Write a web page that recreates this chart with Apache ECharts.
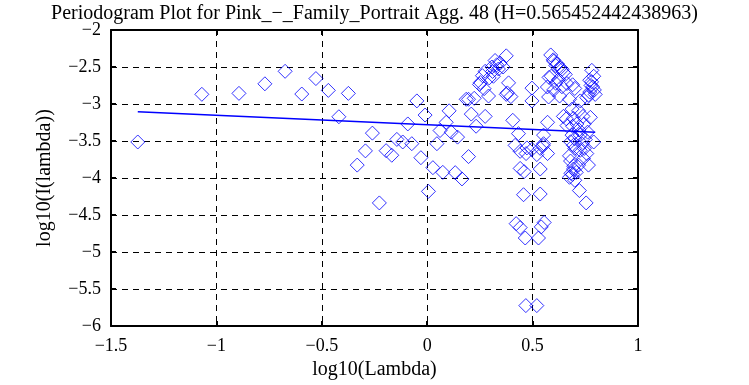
<!DOCTYPE html>
<html><head><meta charset="utf-8">
<script src="https://cdn.jsdelivr.net/npm/echarts@6/dist/echarts.min.js"></script>
<style>html,body{margin:0;padding:0;background:#fff}#c{width:749px;height:385px}</style>
</head><body><div id="c"></div>
<script>
const titleText = 'Periodogram Plot for Pink_\u2212_Family_Portrait Agg. 48 (H=0.565452442438963)';
const xName = 'log10(Lambda)';
const yName = 'log10(I(lambda))';
const xTicks = [-1.5, -1, -0.5, 0, 0.5, 1];
const yTicks = [-6, -5.5, -5, -4.5, -4, -3.5, -3, -2.5, -2];
const points = [
[-1.373,-3.513],[-1.069,-2.869],[-0.893,-2.856],[-0.770,-2.727],[-0.674,-2.558],[-0.595,-2.865],[-0.528,-2.656],[-0.469,-2.816],[-0.374,-2.856],[-0.419,-3.172],[-0.260,-3.393],[-0.293,-3.633],[-0.332,-3.825],[-0.227,-4.336],
[-0.049,-2.958],[-0.010,-3.149],[-0.092,-3.269],[-0.144,-3.478],[-0.116,-3.513],[-0.073,-3.536],[-0.195,-3.63],[-0.168,-3.692],[-0.030,-3.725],[0.027,-3.86],[0.074,-3.923],[0.133,-3.927],[0.165,-4.012],[0.006,-4.18],[0.046,-3.536],[0.061,-3.358],[0.090,-3.247],[0.104,-3.092],[0.114,-3.38],[0.144,-3.447],[0.196,-3.71],[0.185,-2.936],[0.223,-2.923],[0.209,-3.136],[0.232,-3.30],[0.275,-3.167],[0.248,-2.736],[0.270,-2.793],[0.291,-2.892],[0.275,-2.558],[0.307,-2.50],[0.322,-2.412],[0.346,-2.447],[0.375,-2.349],[0.338,-2.527],[0.314,-2.625],[0.386,-2.714],[0.397,-2.90],[0.375,-2.87],[0.406,-3.22],[0.433,-3.40],[0.417,-3.558],[0.441,-3.639],[0.469,-3.669],[0.497,-3.612],[0.520,-3.683],[0.441,-3.87],[0.460,-3.913],[0.536,-3.878],[0.457,-4.225],[0.536,-4.216],[0.497,-2.785],[0.497,-2.958],[0.552,-3.42],[0.571,-3.247],[0.552,-3.536],[0.571,-3.669],[0.576,-2.905],[0.60,-2.81],
[0.252,-2.71],[0.196,-2.936],[0.262,-2.617],[0.294,-2.647],[0.33,-2.47],[0.31,-2.56],[0.36,-2.50],[0.38,-2.85],
[0.586,-2.337],[0.598,-2.403],[0.617,-2.456],[0.631,-2.513],[0.646,-2.572],[0.588,-2.625],[0.623,-2.669],[0.663,-2.723],[0.639,-2.767],[0.628,-2.892],[0.675,-2.936],[0.726,-2.958],[0.687,-3.069],[0.646,-3.167],[0.694,-3.193],[0.718,-3.092],[0.739,-3.167],[0.774,-3.18],[0.663,-3.292],[0.71,-3.269],[0.745,-3.269],[0.687,-3.42],[0.726,-3.42],[0.761,-3.38],[0.790,-3.513],[0.734,-3.536],[0.694,-3.558],[0.726,-3.625],[0.757,-3.669],[0.741,-3.736],[0.675,-3.70],[0.765,-3.825],[0.718,-3.825],[0.694,-3.878],[0.682,-3.936],[0.707,-3.923],[0.675,-3.99],[0.722,-4.169],[0.781,-2.545],[0.790,-2.625],[0.771,-2.678],[0.777,-2.749],[0.793,-2.81],[0.771,-2.838],[0.797,-2.87],[0.757,-2.914],[0.754,-4.336],
[0.60,-2.42],[0.61,-2.48],[0.64,-2.53],[0.655,-2.60],[0.578,-2.64],[0.57,-2.77],[0.61,-2.72],[0.69,-2.74],[0.70,-2.79],[0.78,-2.70],[0.785,-2.77],[0.765,-2.88],
[0.66,-3.20],[0.69,-3.30],[0.72,-3.35],[0.75,-3.48],[0.70,-3.47],[0.68,-3.51],[0.70,-3.60],[0.745,-3.60],[0.68,-3.77],[0.695,-3.84],[0.69,-3.95],[0.70,-4.03],
[0.473,-3.593],[0.536,-3.60],[0.55,-3.56],
[0.422,-4.616],[0.441,-4.669],[0.555,-4.60],[0.541,-4.66],[0.465,-4.81],[0.528,-4.81],[0.468,-5.723],[0.520,-5.723]
];
const fitLine = [[-1.373,-3.105],[0.797,-3.38]];

const font = 'Liberation Serif, Times New Roman, serif';
const fmt = v => String(v).replace('-', '\u2212');
const chart = echarts.init(document.getElementById('c'));
const baseX = {type:'value', min:xTicks[0], max:xTicks[xTicks.length-1], interval:0.5};
const baseY = {type:'value', min:yTicks[0], max:yTicks[yTicks.length-1], interval:0.5};
chart.setOption({
  animation:false,
  backgroundColor:'#fff',
  title:{text:titleText, left:'center', top:-1, textStyle:{fontFamily:font, fontSize:20, fontWeight:'normal', color:'#000'}},
  grid:{left:111, right:111, top:30, bottom:55, containLabel:false},
  xAxis:[
    Object.assign({}, baseX, {position:'bottom', name:xName, nameLocation:'middle', nameGap:31,
      nameTextStyle:{fontFamily:font, fontSize:20, color:'#000'},
      axisLine:{onZero:false, lineStyle:{color:'#000', width:2}},
      axisTick:{inside:true, length:5, lineStyle:{color:'#000', width:2}},
      axisLabel:{formatter:fmt, fontFamily:font, fontSize:18, color:'#000', margin:11},
      splitLine:{show:true, lineStyle:{color:'#000', type:[6,5], width:1}}}),
    Object.assign({}, baseX, {position:'top',
      axisLine:{onZero:false, lineStyle:{color:'#000', width:2}},
      axisTick:{inside:true, length:5, lineStyle:{color:'#000', width:2}},
      axisLabel:{show:false}, splitLine:{show:false}})
  ],
  yAxis:[
    Object.assign({}, baseY, {position:'left', name:yName, nameLocation:'middle', nameGap:56, nameRotate:90,
      nameTextStyle:{fontFamily:font, fontSize:20, color:'#000'},
      axisLine:{onZero:false, lineStyle:{color:'#000', width:2}},
      axisTick:{inside:true, length:5, lineStyle:{color:'#000', width:2}},
      axisLabel:{formatter:fmt, fontFamily:font, fontSize:18, color:'#000', margin:10},
      splitLine:{show:true, lineStyle:{color:'#000', type:[6,5], width:1}}}),
    Object.assign({}, baseY, {position:'right',
      axisLine:{onZero:false, lineStyle:{color:'#000', width:2}},
      axisTick:{inside:true, length:5, lineStyle:{color:'#000', width:2}},
      axisLabel:{show:false}, splitLine:{show:false}})
  ],
  series:[
    {type:'scatter', xAxisIndex:0, yAxisIndex:0, data:points, symbol:'diamond', symbolSize:[14,14],
      itemStyle:{color:'rgba(0,0,0,0)', borderColor:'#0000ff', borderWidth:1}, silent:true},
    {type:'line', xAxisIndex:0, yAxisIndex:0, data:fitLine, symbol:'none',
      lineStyle:{color:'#0000ff', width:1.5}, silent:true}
  ]
});
</script></body></html>
